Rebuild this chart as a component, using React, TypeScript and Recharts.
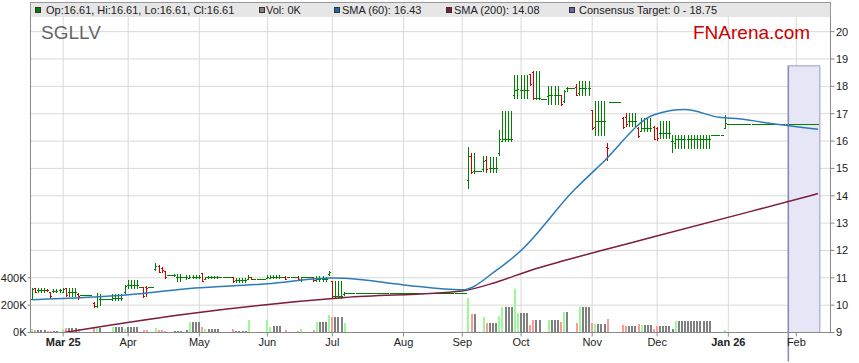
import React from 'react';
import {
  ComposedChart,
  Bar,
  Line,
  XAxis,
  YAxis,
  CartesianGrid,
  ReferenceArea,
  ReferenceLine,
} from 'recharts';

// one row per trading day: open, high, low, close, volume (K)
type Row = [number, number, number, number, number];

const FEB_25: Row[] = [
  [10.2, 10.6, 10.19, 10.57, 22], [10.6, 10.62, 10.46, 10.48, 15], [10.54, 10.6, 10.48, 10.54, 15], [10.54, 10.6, 10.48, 10.54, 15],
  [10.54, 10.6, 10.48, 10.54, 15], [10.55, 10.56, 10.5, 10.52, 10], [10.45, 10.46, 10.28, 10.3, 10], [10.5, 10.58, 10.45, 10.5, 12],
  [10.5, 10.58, 10.45, 10.5, 12], [10.52, 10.58, 10.47, 10.52, 0],
];
const MAR_25: Row[] = [
  [10.46, 10.62, 10.45, 10.58, 24], [10.6, 10.62, 10.32, 10.35, 32], [10.47, 10.6, 10.33, 10.47, 32], [10.47, 10.6, 10.33, 10.47, 32],
  [10.47, 10.6, 10.33, 10.47, 32], [10.4, 10.41, 10.22, 10.33, 22], [10.35, 10.35, 10.35, 10.35, 0], [10.35, 10.35, 10.35, 10.35, 0],
  [10.35, 10.35, 10.35, 10.35, 0], [10.35, 10.35, 10.35, 10.35, 0], [10.07, 10.08, 9.93, 9.95, 32], [9.95, 10.42, 9.93, 10.3, 32],
  [10.21, 10.4, 10.0, 10.21, 32], [10.21, 10.21, 10.21, 10.21, 0], [10.21, 10.21, 10.21, 10.21, 0], [10.21, 10.21, 10.21, 10.21, 0],
  [10.2, 10.38, 10.17, 10.26, 41], [10.26, 10.38, 10.17, 10.26, 41], [10.26, 10.38, 10.17, 10.26, 41], [10.26, 10.38, 10.17, 10.26, 41],
  [10.45, 10.72, 10.44, 10.7, 24],
];
const APR_25: Row[] = [
  [10.72, 10.9, 10.62, 10.72, 41], [10.72, 10.9, 10.62, 10.72, 41], [10.72, 10.9, 10.62, 10.72, 41], [10.72, 10.9, 10.62, 10.72, 41],
  [10.66, 10.66, 10.66, 10.66, 0], [10.64, 10.66, 10.29, 10.31, 19], [10.66, 10.68, 10.3, 10.62, 19], [10.65, 10.65, 10.65, 10.65, 0],
  [10.65, 10.65, 10.65, 10.65, 0], [11.3, 11.51, 11.25, 11.42, 32], [11.42, 11.46, 11.18, 11.2, 19], [11.35, 11.38, 11.2, 11.25, 19],
  [11.22, 11.23, 10.97, 11.0, 12], [11.1, 11.1, 11.1, 11.1, 0], [11.1, 11.1, 11.1, 11.1, 0], [11.1, 11.12, 11.05, 11.1, 12],
  [11.0, 11.12, 10.88, 11.0, 12], [11.0, 11.12, 10.88, 11.0, 12], [11.02, 11.02, 11.02, 11.02, 0], [11.0, 11.1, 10.95, 11.0, 19],
  [10.98, 11.1, 10.96, 11.02, 78], [11.02, 11.1, 10.96, 11.02, 78], [11.02, 11.1, 10.96, 11.02, 78],
];
const MAY_25: Row[] = [
  [11.02, 11.1, 10.96, 11.02, 78], [11.15, 11.17, 10.85, 10.87, 41], [10.95, 11.02, 10.95, 11.0, 24], [11.0, 11.03, 10.97, 11.0, 24],
  [11.0, 11.03, 10.97, 11.0, 24], [11.0, 11.03, 10.97, 11.0, 24], [11.0, 11.03, 10.97, 11.0, 24], [11.0, 11.0, 11.0, 11.0, 0],
  [11.0, 11.0, 11.0, 11.0, 0], [11.0, 11.0, 11.0, 11.0, 0], [11.0, 11.0, 11.0, 11.0, 0], [11.0, 11.02, 10.82, 10.85, 24],
  [10.9, 10.98, 10.82, 10.9, 12], [10.9, 10.98, 10.82, 10.9, 12], [10.9, 10.98, 10.82, 10.9, 12], [10.9, 10.98, 10.82, 10.9, 12],
  [10.92, 11.08, 10.92, 11.0, 93], [11.0, 11.0, 10.93, 10.94, 0], [10.95, 10.95, 10.95, 10.95, 0], [10.95, 10.95, 10.95, 10.95, 0],
  [10.95, 10.95, 10.95, 10.95, 0], [10.95, 10.95, 10.95, 10.95, 0],
];
const JUN_25: Row[] = [
  [10.96, 11.08, 10.96, 11.0, 93], [10.98, 11.08, 10.96, 11.02, 41], [11.0, 11.08, 10.96, 11.0, 49], [11.0, 11.08, 10.96, 11.0, 49],
  [11.0, 11.08, 10.96, 11.0, 49], [11.02, 11.02, 11.02, 11.02, 0], [11.02, 11.03, 10.92, 10.93, 19], [11.02, 11.02, 11.02, 11.02, 0],
  [11.02, 11.02, 11.02, 11.02, 0], [11.02, 11.02, 11.02, 11.02, 0], [11.02, 11.03, 10.9, 10.92, 12], [10.9, 11.02, 10.85, 11.0, 24],
  [11.02, 11.02, 11.02, 11.02, 0], [11.02, 11.02, 11.02, 11.02, 0], [11.02, 11.02, 11.02, 11.02, 0], [11.0, 11.02, 10.88, 10.9, 19],
  [10.9, 11.05, 10.85, 10.95, 78], [10.95, 11.05, 10.85, 10.95, 78], [10.95, 11.05, 10.85, 10.95, 78], [10.95, 11.0, 10.87, 10.95, 80],
  [11.12, 11.23, 11.1, 11.18, 129],
];
const JUL_25: Row[] = [
  [10.87, 10.87, 10.25, 10.3, 110], [10.3, 10.87, 10.25, 10.3, 110], [10.3, 10.87, 10.25, 10.3, 110], [10.3, 10.87, 10.25, 10.3, 110],
  [10.38, 10.45, 10.36, 10.41, 71], [10.41, 10.41, 10.41, 10.41, 0], [10.41, 10.41, 10.41, 10.41, 0], [10.41, 10.41, 10.41, 10.41, 0],
  [10.41, 10.41, 10.41, 10.41, 0], [10.41, 10.41, 10.41, 10.41, 0], [10.41, 10.41, 10.41, 10.41, 0], [10.41, 10.41, 10.41, 10.41, 0],
  [10.41, 10.41, 10.41, 10.41, 0], [10.41, 10.41, 10.41, 10.41, 0], [10.41, 10.41, 10.41, 10.41, 0], [10.41, 10.41, 10.41, 10.41, 0],
  [10.41, 10.41, 10.41, 10.41, 0], [10.41, 10.41, 10.41, 10.41, 0], [10.41, 10.41, 10.41, 10.41, 0], [10.41, 10.41, 10.41, 10.41, 0],
  [10.41, 10.41, 10.41, 10.41, 0], [10.41, 10.41, 10.41, 10.41, 0], [10.41, 10.41, 10.41, 10.41, 0],
];
const AUG_25: Row[] = [
  [10.41, 10.41, 10.41, 10.41, 0], [10.41, 10.41, 10.41, 10.41, 0], [10.41, 10.41, 10.41, 10.41, 0], [10.41, 10.41, 10.41, 10.41, 0],
  [10.41, 10.41, 10.41, 10.41, 0], [10.41, 10.41, 10.41, 10.41, 0], [10.41, 10.41, 10.41, 10.41, 0], [10.41, 10.41, 10.41, 10.41, 0],
  [10.41, 10.41, 10.41, 10.41, 0], [10.41, 10.41, 10.41, 10.41, 0], [10.41, 10.41, 10.41, 10.41, 0], [10.41, 10.41, 10.41, 10.41, 0],
  [10.41, 10.41, 10.41, 10.41, 0], [10.41, 10.41, 10.41, 10.41, 0], [10.41, 10.41, 10.41, 10.41, 0], [10.41, 10.41, 10.41, 10.41, 0],
  [10.41, 10.41, 10.41, 10.41, 0], [10.41, 10.41, 10.41, 10.41, 0], [10.41, 10.41, 10.41, 10.41, 0],
];
const SEP_25: Row[] = [
  [10.41, 10.41, 10.41, 10.41, 0], [10.41, 10.41, 10.41, 10.41, 0], [14.57, 15.75, 14.26, 15.45, 254], [15.45, 15.55, 14.81, 14.85, 134],
  [14.9, 15.55, 14.81, 14.9, 134], [14.9, 14.9, 14.9, 14.9, 0], [14.9, 14.9, 14.9, 14.9, 0], [14.95, 15.42, 14.87, 15.25, 112],
  [15.3, 15.42, 14.85, 14.95, 68], [14.98, 15.4, 14.85, 14.98, 68], [14.98, 15.4, 14.85, 14.98, 68], [14.98, 15.4, 14.85, 14.98, 68],
  [15.55, 16.4, 15.49, 16.04, 119], [16.0, 17.07, 15.98, 16.04, 188], [16.04, 17.07, 15.98, 16.04, 188], [16.04, 17.07, 15.98, 16.04, 188],
  [16.04, 17.07, 15.98, 16.04, 188], [17.66, 18.41, 17.54, 17.85, 317], [17.85, 18.41, 17.54, 17.9, 144],
];
const OCT_25: Row[] = [
  [17.85, 18.41, 17.54, 17.85, 144], [17.85, 18.41, 17.54, 17.85, 144], [17.85, 18.41, 17.54, 17.85, 144], [18.42, 18.45, 18.03, 18.05, 54],
  [18.5, 18.56, 17.53, 17.55, 90], [17.55, 18.56, 17.53, 17.55, 90], [17.55, 18.56, 17.53, 17.55, 90], [17.53, 17.53, 17.53, 17.53, 0],
  [17.53, 17.53, 17.53, 17.53, 0], [17.62, 18.01, 17.32, 17.66, 90], [17.66, 18.01, 17.32, 17.66, 90], [17.66, 18.01, 17.32, 17.66, 90],
  [17.66, 18.01, 17.32, 17.66, 90], [17.66, 17.68, 17.3, 17.32, 78], [17.44, 17.84, 17.42, 17.8, 149], [17.93, 17.95, 17.8, 17.93, 149],
  [17.93, 17.93, 17.93, 17.93, 0], [17.93, 17.93, 17.93, 17.93, 0], [17.95, 18.05, 17.65, 17.68, 68], [17.75, 18.17, 17.68, 17.93, 188],
  [17.93, 18.17, 17.68, 17.93, 188], [17.93, 18.17, 17.68, 17.93, 188], [17.93, 18.17, 17.68, 17.93, 188],
];
const NOV_25: Row[] = [
  [17.12, 17.13, 16.43, 16.45, 68], [16.5, 17.44, 16.22, 16.71, 61], [16.71, 17.44, 16.22, 16.71, 61], [16.71, 17.44, 16.22, 16.71, 61],
  [16.71, 17.44, 16.22, 16.71, 61], [15.78, 15.9, 15.29, 15.72, 98], [17.42, 17.42, 17.42, 17.42, 0], [17.42, 17.42, 17.42, 17.42, 0],
  [17.42, 17.42, 17.42, 17.42, 0], [17.42, 17.42, 17.42, 17.42, 0], [16.84, 16.86, 16.45, 16.48, 54], [16.85, 17.0, 16.55, 16.6, 46],
  [16.73, 17.01, 16.53, 16.73, 46], [16.73, 17.01, 16.53, 16.73, 46], [16.73, 17.01, 16.53, 16.73, 46], [16.47, 16.48, 16.14, 16.16, 61],
  [16.35, 16.81, 16.34, 16.47, 54], [16.47, 16.81, 16.34, 16.47, 54], [16.47, 16.81, 16.34, 16.47, 54], [16.47, 16.81, 16.34, 16.47, 54],
  [16.5, 16.53, 16.04, 16.06, 24],
];
const DEC_25: Row[] = [
  [16.45, 16.5, 16.02, 16.1, 46], [16.28, 16.71, 16.1, 16.28, 46], [16.28, 16.71, 16.1, 16.28, 46], [16.28, 16.71, 16.1, 16.28, 46],
  [16.28, 16.71, 16.1, 16.28, 46], [16.0, 16.2, 15.59, 16.0, 29], [15.9, 16.22, 15.73, 16.04, 83], [16.04, 16.22, 15.73, 16.04, 83],
  [16.04, 16.22, 15.73, 16.04, 83], [16.04, 16.22, 15.73, 16.04, 83], [16.04, 16.22, 15.73, 16.04, 83], [16.04, 16.22, 15.73, 16.04, 83],
  [16.04, 16.22, 15.73, 16.04, 83], [16.04, 16.22, 15.73, 16.04, 83], [16.04, 16.22, 15.73, 16.04, 83], [16.04, 16.22, 15.73, 16.04, 83],
  [16.04, 16.22, 15.73, 16.04, 83], [16.04, 16.22, 15.73, 16.04, 83], [16.22, 16.22, 16.22, 16.22, 0], [16.22, 16.22, 16.22, 16.22, 0],
  [16.22, 16.22, 16.22, 16.22, 0], [16.22, 16.22, 16.22, 16.22, 0], [16.45, 16.93, 16.45, 16.63, 17],
];
const JAN_26: Row[] = [
  [16.61, 16.61, 16.61, 16.61, 0], [16.61, 16.61, 16.61, 16.61, 0], [16.61, 16.61, 16.61, 16.61, 0], [16.61, 16.61, 16.61, 16.61, 0],
  [16.61, 16.61, 16.61, 16.61, 0], [16.61, 16.61, 16.61, 16.61, 0], [16.61, 16.61, 16.61, 16.61, 0], [16.61, 16.61, 16.61, 16.61, 0],
  [16.61, 16.61, 16.61, 16.61, 0], [16.61, 16.61, 16.61, 16.61, 0], [16.61, 16.61, 16.61, 16.61, 0], [16.61, 16.61, 16.61, 16.61, 0],
  [16.61, 16.61, 16.61, 16.61, 0], [16.61, 16.61, 16.61, 16.61, 0], [16.61, 16.61, 16.61, 16.61, 0], [16.61, 16.61, 16.61, 16.61, 0],
  [16.61, 16.61, 16.61, 16.61, 0], [16.61, 16.61, 16.61, 16.61, 0], [16.61, 16.61, 16.61, 16.61, 0], [16.61, 16.61, 16.61, 16.61, 0],
  [16.61, 16.61, 16.61, 16.61, 0], [16.61, 16.61, 16.61, 16.61, 0],
];
const FEB_26: Row[] = [
  [16.61, 16.61, 16.61, 16.61, 0], [16.61, 16.61, 16.61, 16.61, 0], [16.61, 16.61, 16.61, 16.61, 0], [16.61, 16.61, 16.61, 16.61, 0],
  [16.61, 16.61, 16.61, 16.61, 0], [16.61, 16.61, 16.61, 16.61, 0], [16.61, 16.61, 16.61, 16.61, 0], [16.61, 16.61, 16.61, 16.61, 0],
];

// moving averages read at a handful of bars: [bar index, value]
const SMA_60: [number, number][] = [
  [0, 10.2], [31, 10.38], [50, 10.6], [76, 10.78], [97, 10.99], [101, 10.98], [120, 10.74], [139, 10.56], [150, 11.27],
  [158, 12.0], [175, 14.19], [184, 15.17], [201, 16.96], [211, 17.15], [222, 16.87], [229, 16.81], [236, 16.69], [254, 16.43],
];
const SMA_200: [number, number][] = [
  [0, 8.81], [50, 9.68], [101, 10.28], [139, 10.52], [150, 10.84], [161, 11.27], [172, 11.63], [184, 12.0], [200, 12.47],
  [232, 13.42], [254, 14.08],
];

const MONTH_TICKS = [10, 31, 54, 76, 97, 120, 139, 158, 181, 202, 225, 247];
const MONTH_LABELS = ['Mar 25', 'Apr', 'May', 'Jun', 'Jul', 'Aug', 'Sep', 'Oct', 'Nov', 'Dec', 'Jan 26', 'Feb'];
const PRICE_TICKS = [9, 10, 11, 12, 13, 14, 15, 16, 17, 18, 19, 20];
const VOL_TICKS = [0, 200000, 400000];

const TARGET_LOW = 0;
const TARGET_HIGH = 18.75;
const TARGET_FROM = 244.4;
const TARGET_TO = 254.6;

const PRICE_MIN = 9;
const PRICE_MAX = 21.066;
const VOL_MAX = 2413200;
const X_DOMAIN: [number, number] = [-0.57, 258.03];

const FONT = '"Liberation Sans", Arial, Helvetica, sans-serif';
const UP = '#008000';
const DOWN = '#cc0000';

const ROWS: Row[] = [
  ...FEB_25, ...MAR_25, ...APR_25, ...MAY_25, ...JUN_25, ...JUL_25, ...AUG_25,
  ...SEP_25, ...OCT_25, ...NOV_25, ...DEC_25, ...JAN_26, ...FEB_26,
];

const sma60At = new Map(SMA_60);
const sma200At = new Map(SMA_200);

const data = ROWS.map(([o, h, l, c, v], i) => ({
  i, o, h, l, c,
  v: v * 1000,
  sma60: sma60At.get(i) ?? null,
  sma200: sma200At.get(i) ?? null,
}));

const OhlcShape = (props: any) => {
  const { x, y, width, height, payload } = props;
  if (!payload || height == null) return null;
  const { o, h, l, c } = payload;
  const ppu = height / (h - PRICE_MIN);
  const py = (v: number) => Math.floor(y + (h - v) * ppu);
  const X = Math.round(x + width / 2 - 0.5);
  const top = py(h);
  const bot = py(l);
  return (
    <g fill={c < o ? DOWN : UP} shapeRendering="crispEdges">
      <rect x={X} y={top} width={1} height={bot - top + 1} />
      <rect x={X - 1} y={py(o)} width={1} height={1} />
      <rect x={X + 1} y={py(c)} width={1} height={1} />
    </g>
  );
};

const VolShape = (props: any) => {
  const { x, y, width, height, payload } = props;
  if (!payload || !(payload.v > 0)) return null;
  const X = Math.round(x + width / 2 - 0.5);
  const top = Math.round(y);
  const bot = Math.floor(y + height);
  const fill = payload.c > payload.o ? '#98fb98' : payload.c < payload.o ? '#ff9999' : '#808080';
  return <rect x={X - 1} y={top} width={2} height={Math.max(1, bot - top)} fill={fill} shapeRendering="crispEdges" />;
};

const MonthTick = (props: any) => {
  const { x, y, payload } = props;
  const label = MONTH_LABELS[MONTH_TICKS.indexOf(payload.value)] ?? '';
  return (
    <text x={x} y={y} dy="0.71em" textAnchor="middle" fontSize={11} fontFamily={FONT}
      fontWeight={label.includes(' ') ? 'bold' : 'normal'} fill="#222">
      {label}
    </text>
  );
};

const TargetEdge = (props: any) => (
  <line x1={props.x1} y1={props.y1} x2={props.x2} y2={props.y2 + 29} stroke="#8a8ab8" strokeWidth={1.5} />
);

const last = ROWS[ROWS.length - 1];
const LEGEND = [
  { color: UP, sq: 35, tx: 46, text: `Op:${last[0]}, Hi:${last[1]}, Lo:${last[2]}, Cl:${last[3]}` },
  { color: '#808080', sq: 259, tx: 266, text: `Vol: ${last[4]}K` },
  { color: '#1f6aa8', sq: 334, tx: 342, text: `SMA (60): ${SMA_60[SMA_60.length - 1][1].toFixed(2)}` },
  { color: '#7d1e3c', sq: 446, tx: 454, text: `SMA (200): ${SMA_200[SMA_200.length - 1][1].toFixed(2)}` },
  { color: '#6a6aa0', sq: 569, tx: 579, text: `Consensus Target: ${TARGET_LOW} - ${TARGET_HIGH}` },
];

const App: React.FC = () => (
  <div style={{ position: 'absolute', left: 0, top: 0, width: 859, height: 363, background: '#fff', fontFamily: FONT }}>
    <ComposedChart width={859} height={363} data={data} margin={{ top: 2.5, right: 0, bottom: 0, left: 0 }}>
      <CartesianGrid xAxisId="p" yAxisId="price" stroke="#d9d9d9" />
      <XAxis
        xAxisId="p"
        dataKey="i"
        type="number"
        domain={X_DOMAIN}
        ticks={MONTH_TICKS}
        interval={0}
        height={30.5}
        tickSize={4}
        tickMargin={1.5}
        tick={<MonthTick />}
        stroke="#888"
        allowDataOverflow
      />
      <XAxis xAxisId="v" dataKey="i" type="number" domain={X_DOMAIN} hide height={0} allowDataOverflow />
      <YAxis
        yAxisId="vol"
        orientation="left"
        width={30.5}
        domain={[0, VOL_MAX]}
        ticks={VOL_TICKS}
        interval={0}
        tickFormatter={(v: number) => `${v / 1000}K`}
        tickSize={3}
        tickMargin={1}
        tick={{ fill: '#222', fontSize: 11, fontFamily: FONT }}
        stroke="#888"
        allowDataOverflow
      />
      <YAxis
        yAxisId="price"
        orientation="right"
        width={28.5}
        domain={[PRICE_MIN, PRICE_MAX]}
        ticks={PRICE_TICKS}
        interval={0}
        tickSize={4}
        tickMargin={1.5}
        tick={{ fill: '#222', fontSize: 11, fontFamily: FONT }}
        stroke="#888"
        allowDataOverflow
      />
      <ReferenceArea
        xAxisId="p"
        yAxisId="price"
        x1={TARGET_FROM}
        x2={TARGET_TO}
        y1={TARGET_LOW}
        y2={TARGET_HIGH}
        ifOverflow="hidden"
        fill="#e6e6f6"
        fillOpacity={1}
        stroke="#9a9ac4"
      />
      <ReferenceLine
        xAxisId="p"
        yAxisId="price"
        segment={[{ x: TARGET_FROM, y: TARGET_HIGH }, { x: TARGET_FROM, y: PRICE_MIN }]}
        shape={TargetEdge}
      />
      <Bar xAxisId="v" yAxisId="vol" dataKey="v" barSize={2} shape={VolShape} isAnimationActive={false} />
      <Bar xAxisId="p" yAxisId="price" dataKey="h" barSize={3} shape={OhlcShape} isAnimationActive={false} />
      <Line
        xAxisId="p"
        yAxisId="price"
        dataKey="sma200"
        type="monotone"
        stroke="#7d1e3c"
        strokeWidth={1.5}
        dot={false}
        connectNulls
        isAnimationActive={false}
      />
      <Line
        xAxisId="p"
        yAxisId="price"
        dataKey="sma60"
        type="monotone"
        stroke="#2c7bb6"
        strokeWidth={1.5}
        dot={false}
        connectNulls
        isAnimationActive={false}
      />
    </ComposedChart>

    <div style={{
      position: 'absolute', left: 30, top: 2, width: 801, height: 15, boxSizing: 'border-box',
      background: '#e6e6e6', borderTop: '1px solid #999', borderLeft: '1px solid #999', borderRight: '1px solid #999',
    }} />
    {LEGEND.map((it) => (
      <React.Fragment key={it.text}>
        <div style={{
          position: 'absolute', left: it.sq, top: 7, width: 6, height: 6, boxSizing: 'border-box',
          border: '1px solid #333', background: it.color,
        }} />
        <div style={{
          position: 'absolute', left: it.tx, top: 3, fontSize: 11, lineHeight: '14px', color: '#222', whiteSpace: 'nowrap',
        }}>
          {it.text}
        </div>
      </React.Fragment>
    ))}
    <div style={{ position: 'absolute', left: 41, top: 23, fontSize: 19, lineHeight: '19px', color: '#666' }}>SGLLV</div>
    <div style={{ position: 'absolute', left: 693, top: 23, fontSize: 19, lineHeight: '19px', color: '#cc0000' }}>FNArena.com</div>
  </div>
);

export default App;
